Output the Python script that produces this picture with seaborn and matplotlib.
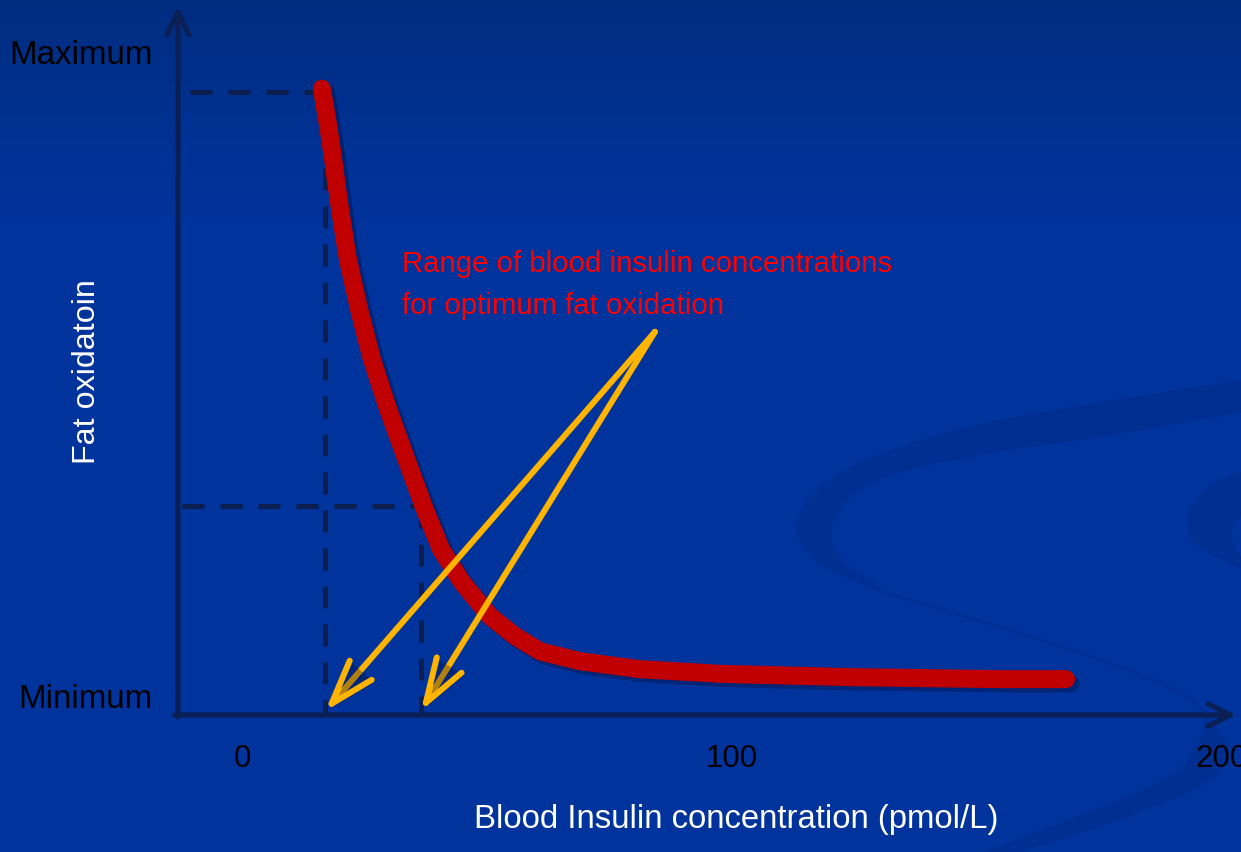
import numpy as np
import matplotlib
matplotlib.use('Agg')
import matplotlib.pyplot as plt
import seaborn as sns
from matplotlib import patheffects as pe
from matplotlib.patches import Polygon

# ---------------- data ----------------
insulin = [16.3, 17.6, 18.6, 20.0, 21.6, 23.9, 26.5, 29.8, 33.5, 37.3, 40.6, 44.9,
           50.6, 55.7, 60.8, 69.0, 81.2, 97.6, 124.1, 154.7, 168.2]
fat_ox = [94.3, 88.7, 83.7, 76.2, 68.7, 61.1, 53.6, 46.1, 38.6, 31.0, 25.0, 20.0,
          14.9, 11.9, 9.6, 8.1, 6.9, 6.2, 5.7, 5.4, 5.4]
x_ticks = [0, 100, 200]
x_tick_labels = ['0', '100', '200']
y_ticks = [3.0, 100]
y_tick_labels = ['Minimum', 'Maximum']
range_x = [17.0, 36.5]          # optimum insulin range bounds
range_y = [93.8, 31.5]          # fat oxidation at those bounds
guide_start = [-10.6, -12.2]    # where the dashed guides start on the left
arrow_tail = (84.3, 57.7)
arrow_tip_y = 0.6
note_lines = ['Range of blood insulin concentrations', 'for optimum fat oxidation']
note_x = 32.7
note_y = [66.9, 60.5]

plt.rcParams['font.family'] = ['Liberation Sans', 'DejaVu Sans']

W, H = 1241, 853
fig = plt.figure(figsize=(W / 100, H / 100), dpi=100)

# ---------------- background ----------------
bg = fig.add_axes([0, 0, 1, 1], zorder=0)
g = np.linspace(0, 1, H)[:, None]
t = np.clip(g / 0.26, 0, 1) ** 0.8
top = np.array([0x00, 0x2d, 0x7e]) / 255
mid = np.array([0x00, 0x33, 0x9c]) / 255
img = top[None, None, :] * (1 - t)[:, :, None] + mid[None, None, :] * t[:, :, None]
bg.imshow(img, extent=[0, W, H, 0], aspect='auto')
bg.set_xlim(0, W)
bg.set_ylim(H, 0)
bg.axis('off')


def smooth(pts, n=20):
    pts = np.asarray(pts, float)
    P = np.vstack([pts[0], pts, pts[-1]])
    out = []
    for i in range(1, len(P) - 2):
        p0, p1, p2, p3 = P[i - 1], P[i], P[i + 1], P[i + 2]
        tt = np.linspace(0, 1, n, endpoint=False)[:, None]
        out.append(0.5 * ((2 * p1) + (-p0 + p2) * tt + (2 * p0 - 5 * p1 + 4 * p2 - p3) * tt ** 2
                          + (-p0 + 3 * p1 - 3 * p2 + p3) * tt ** 3))
    out.append(P[-2][None])
    return np.vstack(out)


swirl_col = '#002a88'
bands = [
    ([(1245, 381), (1100, 403), (960, 430), (850, 468), (798, 518), (815, 562), (880, 592)],
     [(880, 588), (838, 556), (836, 518), (880, 480), (985, 455), (1100, 438), (1245, 413)]),
    ([(1205, 715), (1228, 752), (1200, 787), (1110, 824), (1010, 856)],
     [(975, 856), (1075, 818), (1165, 780), (1195, 750), (1205, 722)]),
    ([(1245, 472), (1210, 486), (1188, 515), (1196, 545), (1245, 572)],
     [(1245, 565), (1234, 545), (1232, 530), (1245, 512)]),
]
for outer, inner in bands:
    poly = np.vstack([smooth(outer), smooth(inner)])
    bg.add_patch(Polygon(poly, closed=True, facecolor=swirl_col, edgecolor='none', alpha=0.5))
thin = smooth([(880, 592), (1000, 628), (1120, 668), (1190, 700), (1212, 728)])
bg.plot(thin[:, 0], thin[:, 1], color=swirl_col, lw=1.8, alpha=0.55)

# ---------------- main axes ----------------
ax = fig.add_axes([178 / W, (H - 716) / H, (1236 - 178) / W, (716 - 10) / H], zorder=1)
ax.patch.set_alpha(0)
ax.set_xlim(-13.06, 202.9)
ax.set_ylim(0, 106.3)
for s in ax.spines.values():
    s.set_visible(False)

axis_col = '#0b1f55'
dash_col = '#0a1e50'

# dashed guides
for gx0, bx, by in zip(guide_start, range_x, range_y):
    ax.plot([gx0, bx], [by, by], color=dash_col, lw=3.6, dashes=(4.4, 3.2), zorder=2,
            clip_on=False)
    ax.plot([bx, bx], [by, 0], color=dash_col, lw=3.6, dashes=(4.4, 3.2), zorder=2,
            clip_on=False)

# curve
sns.lineplot(x=insulin, y=fat_ox, ax=ax, color='#c00000', lw=13, sort=False, estimator=None,
             solid_capstyle='round', solid_joinstyle='round', zorder=3,
             path_effects=[pe.SimpleLineShadow(offset=(3, -3), shadow_color='#000a30', alpha=0.35),
                           pe.Normal()])

# axis arrows
ax_arrow = dict(arrowstyle='->,head_length=16,head_width=8', mutation_scale=1, lw=3.6,
                color=axis_col, shrinkA=0, shrinkB=0, capstyle='round', joinstyle='round')
ax.annotate('', xy=(0, 1.003), xytext=(0, -0.003), xycoords='axes fraction', arrowprops=ax_arrow,
            annotation_clip=False, zorder=2)
ax.annotate('', xy=(1, 0), xytext=(-0.003, 0), xycoords='axes fraction', arrowprops=ax_arrow,
            annotation_clip=False, zorder=2)

# yellow arrows
for tx in range_x:
    ax.annotate('', xy=(tx, arrow_tip_y), xytext=arrow_tail,
                arrowprops=dict(arrowstyle='->,head_length=32,head_width=10.5', mutation_scale=1,
                                lw=4.3, color='#ffb400', shrinkA=0, shrinkB=0,
                                capstyle='round', joinstyle='round',
                                path_effects=[pe.SimplePatchShadow(offset=(2, -2), shadow_rgbFace='#000a30', alpha=0.3),
                                              pe.Normal()]),
                annotation_clip=False, zorder=4)

# note text
note_texts = []
for line, ny in zip(note_lines, note_y):
    note_texts.append(ax.text(note_x, ny, line, color='#ff0000', fontsize=27, ha='left',
                              va='baseline', zorder=5))

# fit the font scale to the reference text width (the reference uses a narrow face)
fig.canvas.draw()
w_note = note_texts[0].get_window_extent(fig.canvas.get_renderer()).width
f = 490.0 / w_note
for tobj in note_texts:
    tobj.set_fontsize(27 * f)

# ticks
ax.set_xticks(x_ticks, x_tick_labels)
ax.tick_params(axis='x', length=0, pad=20.5, labelsize=28.7 * f, labelcolor='black')
ax.set_yticks(y_ticks, y_tick_labels)
ax.tick_params(axis='y', length=0, pad=18.5, labelsize=30.4 * f, labelcolor='black')

ax.set_xlabel('Blood Insulin concentration (pmol/L)', color='white', fontsize=30.2 * f, va='center')
ax.xaxis.set_label_coords((736 - 178) / 1058, (716 - 820) / 706)
ax.set_ylabel('Fat oxidatoin', color='white', fontsize=29.6 * f, va='center')
ax.yaxis.set_label_coords((87 - 178) / 1058, (716 - 372) / 706)

fig.savefig('out.png', dpi=100)
